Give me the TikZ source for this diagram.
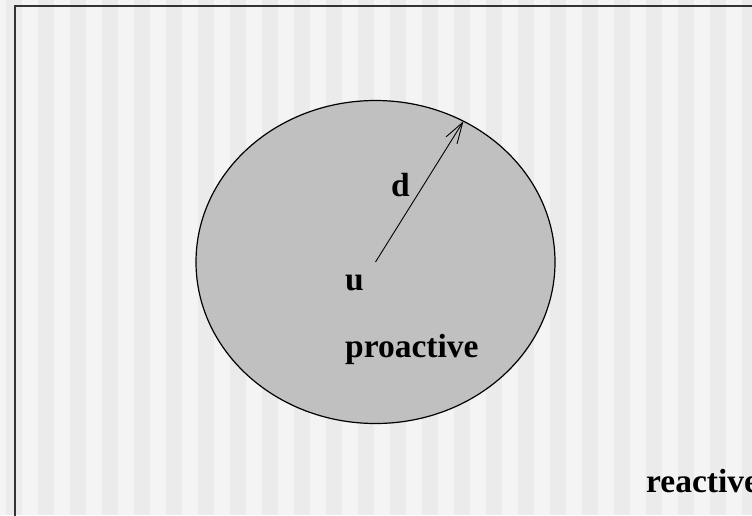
\documentclass[tikz,border=0pt]{standalone}
\usepackage{fontspec}
\setmainfont{Liberation Serif}
\usepackage{xcolor}
\usepackage{tikz}
\usetikzlibrary{shapes, arrows.meta, positioning}

\definecolor{stripelight}{HTML}{F4F4F4}
\definecolor{stripedark}{HTML}{EBEBEB}
\definecolor{zonegray}{HTML}{C0C0C0}

\begin{document}
\begin{tikzpicture}[
    x=1pt, y=-1pt,
    zone/.style={ellipse, draw, line width=1.2pt, fill=zonegray, minimum width=359pt, minimum height=323pt, inner sep=0pt, outer sep=0pt},
    tag/.style={anchor=base west, inner sep=0pt, font=\fontsize{33.5}{40}\selectfont\bfseries},
    reacharrow/.style={-{Straight Barb[length=21pt, width=13pt]}, line width=0.9pt},
    frame/.style={draw=black!80, line width=1.4pt}
]

% Background
\useasboundingbox (0,0) rectangle (752,515);
\clip (0,0) rectangle (752,515);
\fill[stripelight] (0,0) rectangle (752,515);
\foreach \k in {0,...,23}
    \fill[stripedark] (6+32*\k,0) rectangle +(16,515);

% Frame
\draw[frame] (15,6) rectangle (770,530);

% Proactive zone
\node[zone] (area) at (375.5,262) {};
\draw[reacharrow] (area.center) -- (area.58.6);

% Labels
\node[tag] (u) at (345,290) {u};
\node[tag] (d) at (391,196) {d};
\node[tag] (pro) at (345,357) {proactive};
\node[tag] (re) at (646,492) {reactive};

\end{tikzpicture}
\end{document}
